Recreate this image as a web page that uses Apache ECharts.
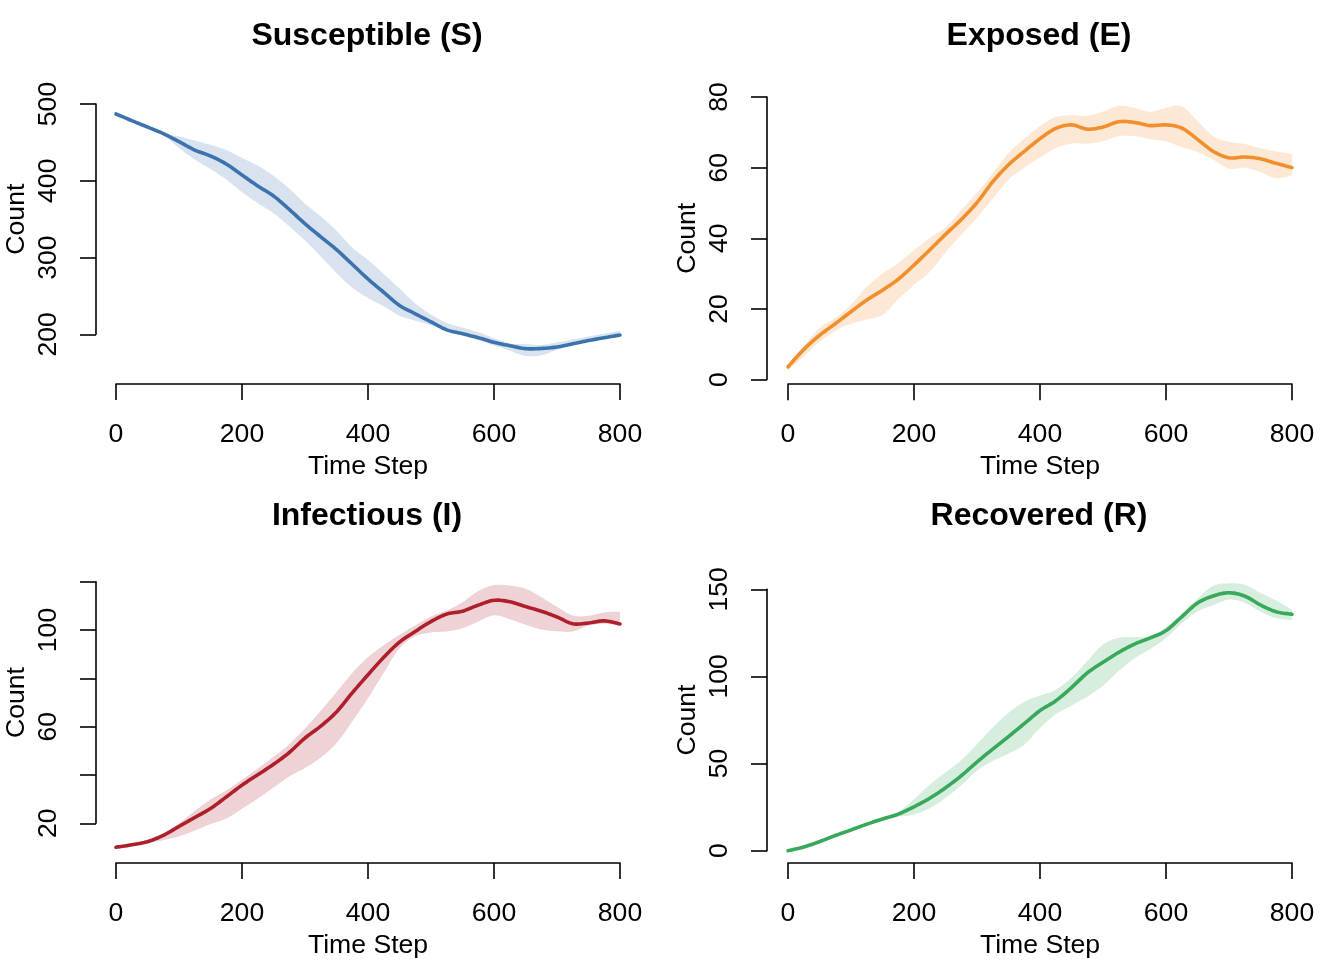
<!DOCTYPE html>
<html>
<head>
<meta charset="utf-8">
<script src="https://cdn.jsdelivr.net/npm/echarts@6/dist/echarts.min.js"></script>
<style>
html,body{margin:0;padding:0;background:#fff;}
#chart{width:1344px;height:960px;}
</style>
</head>
<body>
<div id="chart"></div>
<script>
// ---- data ----
const timeSteps = [0,25,50,75,100,125,150,175,200,225,250,275,300,325,350,375,400,425,450,475,500,525,550,575,600,625,650,675,700,725,750,775,800];

const sLine  = [487.0,478.3,470.0,461.4,451.0,440.0,432.3,421.8,407.5,393.2,380.2,362.7,344.0,327.0,310.3,291.2,272.0,254.7,237.6,226.7,216.2,205.8,200.8,195.6,189.5,185.2,181.3,181.5,183.5,187.6,191.9,195.5,199.1];
const sUpper = [487.5,478.8,470.6,462.2,457.7,452.5,446.8,440.0,429.8,419.7,406.5,389.7,370.2,353.7,335.0,313.0,296.8,278.6,259.5,240.4,225.6,214.8,208.7,202.7,195.0,188.1,187.2,186.2,189.4,193.3,197.1,200.9,204.7];
const sLower = [486.5,477.8,469.4,459.8,442.6,427.6,415.2,401.6,385.2,370.9,357.8,340.6,322.2,301.4,279.9,260.8,247.3,236.4,224.1,217.8,211.9,205.6,198.8,192.2,185.5,178.7,171.8,172.6,179.8,185.7,191.0,194.4,197.8];

const eLine  = [3.6,8.5,12.5,15.8,19.2,22.5,25.3,28.4,32.4,36.7,41.1,45.3,50.1,56.0,60.8,64.6,68.2,71.1,72.1,70.9,71.5,73.0,72.8,71.9,72.1,71.2,68.0,64.6,62.8,63.0,62.5,61.2,60.0];
const eUpper = [4.0,9.4,14.6,17.4,21.2,26.2,30.0,33.0,36.6,40.1,43.1,48.0,52.9,58.4,64.1,68.2,71.8,74.3,74.8,74.7,75.9,77.5,76.9,75.8,76.9,77.4,73.2,68.9,67.3,66.7,65.5,64.6,63.9];
const eLower = [2.5,6.5,10.6,13.7,15.8,17.0,18.3,22.7,26.8,30.5,36.0,41.0,45.8,51.2,56.6,59.9,62.9,65.5,66.8,66.8,67.5,68.9,68.9,68.1,67.4,65.8,64.4,62.3,59.7,60.0,58.7,57.0,57.8];

const iLine  = [10.1,11.1,12.4,15.0,18.7,22.4,26.1,30.9,35.8,40.1,44.4,49.3,55.3,60.2,66.1,74.0,81.5,88.7,95.0,99.4,103.5,106.6,107.8,110.3,112.3,111.7,109.7,107.8,105.4,102.6,102.9,103.8,102.5];
const iUpper = [10.4,11.6,13.3,15.8,20.0,25.1,29.8,33.6,38.0,42.7,47.5,52.7,59.3,66.6,74.3,82.2,88.8,93.7,98.0,101.9,105.6,108.1,111.5,116.1,118.6,118.4,117.1,113.6,109.6,106.0,105.9,107.3,107.6];
const iLower = [9.7,10.7,11.7,13.0,14.6,17.0,19.7,22.0,26.0,30.2,34.8,39.4,42.9,47.2,53.2,62.1,71.8,82.3,92.5,97.4,99.0,99.4,100.7,103.5,106.1,104.5,102.2,100.2,99.5,99.4,101.8,102.6,102.0];

const rLine  = [0.0,2.1,5.2,8.7,11.9,15.2,18.2,21.0,25.2,30.1,36.1,43.0,50.9,58.3,65.5,72.9,80.4,86.0,93.6,102.0,108.1,113.8,118.6,122.1,126.3,134.2,142.1,146.2,148.0,146.1,141.0,137.1,135.7];
const rUpper = [0.5,2.6,5.7,9.2,12.4,15.7,18.9,22.2,29.5,37.9,45.0,52.0,61.1,70.8,79.1,85.4,89.0,92.4,99.3,108.8,118.3,122.2,122.6,123.0,128.3,136.1,144.7,152.1,153.4,152.6,147.9,143.5,138.2];
const rLower = [0.0,1.6,4.7,8.2,11.4,14.2,17.2,19.4,20.8,24.4,30.2,37.5,45.9,51.5,55.7,60.8,70.4,78.3,83.3,88.4,94.7,103.2,110.3,115.8,122.0,130.4,137.2,140.9,144.1,142.3,137.2,133.4,132.4];

const panelTitles = ['Susceptible (S)','Exposed (E)','Infectious (I)','Recovered (R)'];
const xTickLabels = [0,200,400,600,800];
const xAxisName = 'Time Step';
const yAxisName = 'Count';

// ---- layout / style ----
const FONT = '"Liberation Sans", Arial, Helvetica, sans-serif';
const LABEL_SIZE = 26.6;
const panels = [
  {title:panelTitles[0], line:sLine, lower:sLower, upper:sUpper, color:'#3C73AE', band:'rgba(60,115,174,0.2)',
   left:116, top:104, height:230.3, yMin:200, yMax:500, yStep:100, xOff:49.7, yOff:20, tx:362, ty:31, labelEvery:100, labelBase:200},
  {title:panelTitles[1], line:eLine, lower:eLower, upper:eUpper, color:'#F28E2B', band:'rgba(242,142,43,0.2)',
   left:788, top:97, height:282.5, yMin:0, yMax:80, yStep:20, xOff:4.7, yOff:21, tx:1034, ty:31, labelEvery:20, labelBase:0},
  {title:panelTitles[2], line:iLine, lower:iLower, upper:iUpper, color:'#AE1F2C', band:'rgba(174,31,44,0.2)',
   left:116, top:581.7, height:242.6, yMin:20, yMax:120, yStep:20, xOff:39.7, yOff:20, tx:362, ty:511, labelEvery:40, labelBase:20},
  {title:panelTitles[3], line:rLine, lower:rLower, upper:rUpper, color:'#38A85A', band:'rgba(56,168,90,0.2)',
   left:788, top:589.3, height:262.4, yMin:0, yMax:150, yStep:50, xOff:12.3, yOff:21, tx:1034, ty:511, labelEvery:50, labelBase:0}
];

// Catmull-Rom densification in pixel space for smooth curves
function spline(pts, n) {
  const out = [];
  for (let i = 0; i < pts.length - 1; i++) {
    const p0 = pts[Math.max(i - 1, 0)], p1 = pts[i], p2 = pts[i + 1], p3 = pts[Math.min(i + 2, pts.length - 1)];
    for (let s = 0; s < n; s++) {
      const t = s / n, t2 = t * t, t3 = t2 * t;
      const f = (a, b, c, d) => 0.5 * ((2 * b) + (-a + c) * t + (2 * a - 5 * b + 4 * c - d) * t2 + (-a + 3 * b - 3 * c + d) * t3);
      out.push([f(p0[0], p1[0], p2[0], p3[0]), f(p0[1], p1[1], p2[1], p3[1])]);
    }
  }
  out.push(pts[pts.length - 1]);
  return out;
}

const grid = [], xAxis = [], yAxis = [], series = [], title = [];
const axisColor = '#000';
panels.forEach((p, i) => {
  grid.push({left:p.left, top:p.top, width:504, height:p.height});
  title.push({text:p.title, left:p.tx, top:p.ty, textAlign:'center', textVerticalAlign:'middle',
    textStyle:{fontSize:32, fontWeight:'bold', color:'#000', fontFamily:FONT}});
  xAxis.push({gridIndex:i, type:'value', min:xTickLabels[0], max:xTickLabels[xTickLabels.length-1], interval:200, offset:p.xOff,
    axisLine:{show:true, onZero:false, lineStyle:{color:axisColor, width:1.6}},
    axisTick:{show:true, length:16, lineStyle:{color:axisColor, width:1.6}},
    axisLabel:{margin:37, fontSize:LABEL_SIZE, color:'#000', fontFamily:FONT},
    splitLine:{show:false},
    name:xAxisName, nameLocation:'middle', nameGap:69,
    nameTextStyle:{fontSize:LABEL_SIZE, color:'#000', fontFamily:FONT}});
  yAxis.push({gridIndex:i, type:'value', min:p.yMin, max:p.yMax, interval:p.yStep, offset:p.yOff,
    axisLine:{show:true, onZero:false, lineStyle:{color:axisColor, width:1.6}},
    axisTick:{show:true, length:16, lineStyle:{color:axisColor, width:1.6}},
    axisLabel:{rotate:90, margin:34, fontSize:LABEL_SIZE, color:'#000', fontFamily:FONT,
      formatter:(v)=> ((v - p.labelBase) % p.labelEvery === 0 ? String(v) : '')},
    splitLine:{show:false},
    name:yAxisName, nameLocation:'middle', nameGap:66, nameRotate:90,
    nameTextStyle:{fontSize:LABEL_SIZE, color:'#000', fontFamily:FONT}});
  const bandData = timeSteps.map((t,k)=>[t, p.lower[k], p.upper[k]]);
  series.push({type:'custom', xAxisIndex:i, yAxisIndex:i, data:bandData, silent:true, z:1,
    encode:{x:0, y:[1,2]},
    renderItem:(params, api) => {
      if (params.dataIndex !== 0) return null;
      const up = bandData.map(d => api.coord([d[0], d[2]]));
      const lo = bandData.map(d => api.coord([d[0], d[1]]));
      const pts = spline(up, 10).concat(spline(lo, 10).reverse());
      return {type:'polygon', shape:{points:pts}, style:{fill:p.band, stroke:null}};
    }});
  const lineData = timeSteps.map((t,k)=>[t, p.line[k]]);
  series.push({type:'custom', xAxisIndex:i, yAxisIndex:i, data:lineData, silent:true, z:5,
    encode:{x:0, y:1},
    renderItem:(params, api) => {
      if (params.dataIndex !== 0) return null;
      const pts = spline(lineData.map(d => api.coord(d)), 10);
      return {type:'polyline', shape:{points:pts},
        style:{stroke:p.color, lineWidth:3.6, fill:null, lineCap:'round', lineJoin:'round'}};
    }});
});

const chart = echarts.init(document.getElementById('chart'), null, {renderer:'canvas'});
chart.setOption({animation:false, backgroundColor:'#fff', textStyle:{fontFamily:FONT}, title, grid, xAxis, yAxis, series});
</script>
</body>
</html>
